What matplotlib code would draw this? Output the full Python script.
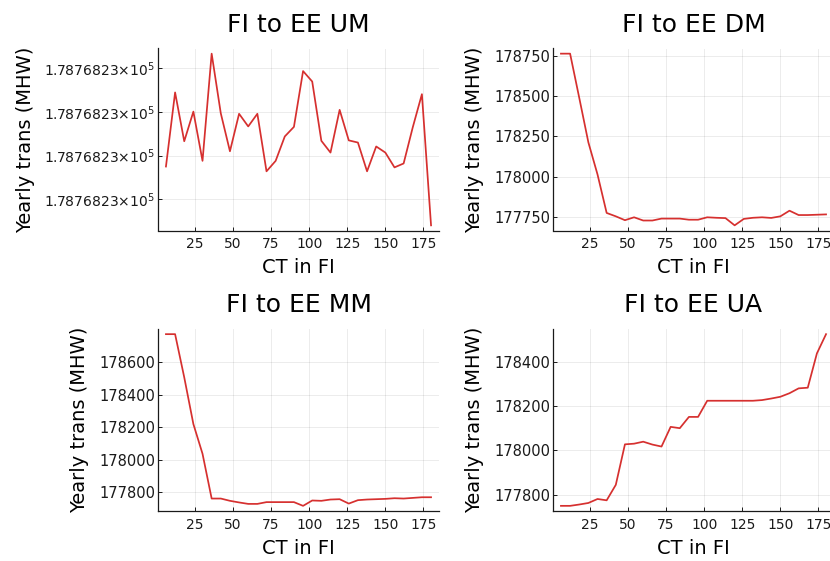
"""
Yearly transmission FI -> EE against CT in FI, four market setups.
"""

import matplotlib
matplotlib.use("Agg")
import matplotlib.pyplot as plt
import matplotlib.ticker as mticker

W, H = 830, 561
LINE_COLOR = "#d6302f"

plt.rcParams.update({
    "font.family": "DejaVu Sans",
    "mathtext.fontset": "dejavusans",
    "axes.edgecolor": "#1a1a1a",
    "axes.linewidth": 0.9,
    "xtick.direction": "in",
    "ytick.direction": "in",
    "xtick.major.size": 3,
    "ytick.major.size": 3,
    "xtick.major.width": 0.7,
    "ytick.major.width": 0.7,
    "xtick.color": "#1a1a1a",
    "ytick.color": "#1a1a1a",
    "xtick.labelsize": 10,
    "ytick.labelsize": 10.5,
    "grid.color": "#000000",
    "grid.alpha": 0.09,
    "grid.linewidth": 0.6,
})

CT_IN_FI = [6, 12, 18, 24, 30, 36, 42, 48, 54, 60,
            66, 72, 78, 84, 90, 96, 102, 108, 114, 120,
            126, 132, 138, 144, 150, 156, 162, 168, 174, 180]

UM_TRANS = [178768.22875, 178768.23045, 178768.22933, 178768.23001, 178768.22888,
            178768.23134, 178768.22997, 178768.22910, 178768.22996, 178768.22967,
            178768.22996, 178768.22864, 178768.22888, 178768.22944, 178768.22966,
            178768.23094, 178768.23070, 178768.22934, 178768.22907, 178768.23005,
            178768.22935, 178768.22930, 178768.22864, 178768.22921, 178768.22907,
            178768.22873, 178768.22882, 178768.22965, 178768.23041, 178768.22740]

DM_TRANS = [178764, 178764, 178490, 178213, 178014, 177775, 177754, 177730, 177748, 177728,
            177728, 177740, 177740, 177740, 177733, 177733, 177748, 177745, 177743, 177698,
            177738, 177745, 177748, 177744, 177754, 177789, 177762, 177762, 177764, 177766]

MM_TRANS = [178774, 178774, 178508, 178220, 178037, 177761, 177761, 177747, 177737, 177728,
            177728, 177739, 177739, 177739, 177739, 177716, 177749, 177747, 177755, 177757,
            177730, 177751, 177755, 177757, 177759, 177763, 177761, 177765, 177769, 177769]

UA_TRANS = [177749, 177749, 177755, 177762, 177780, 177774, 177844, 178027, 178030, 178039,
            178026, 178017, 178106, 178100, 178151, 178151, 178224, 178224, 178224, 178224,
            178224, 178224, 178227, 178234, 178242, 178258, 178280, 178283, 178438, 178525]

UM_YTICKS = [178768.228, 178768.229, 178768.230, 178768.231]
UM_YTICKLABELS = [r"1.7876823$\times$10$^{5}$"] * 4
DM_YTICKS = [177750, 178000, 178250, 178500, 178750]
MM_YTICKS = [177800, 178000, 178200, 178400, 178600]
UA_YTICKS = [177800, 178000, 178200, 178400]

PANELS = [
    ("FI to EE UM", UM_TRANS, UM_YTICKS, UM_YTICKLABELS, (158, 48.5)),
    ("FI to EE DM", DM_TRANS, DM_YTICKS, None, (553, 48.5)),
    ("FI to EE MM", MM_TRANS, MM_YTICKS, None, (158, 329)),
    ("FI to EE UA", UA_TRANS, UA_YTICKS, None, (553, 329)),
]
AX_W, AX_H = 281, 182


def draw_panel(fig, title, values, yticks, yticklabels, origin):
    left, top = origin
    ax = fig.add_axes([left / W, (H - top - AX_H) / H, AX_W / W, AX_H / H])
    ax.plot(CT_IN_FI, values, color=LINE_COLOR, lw=1.25)
    ax.margins(x=0.03, y=0.03)

    ax.xaxis.set_major_locator(mticker.MultipleLocator(25))
    ax.yaxis.set_major_locator(mticker.FixedLocator(yticks))
    if yticklabels is not None:
        ax.yaxis.set_major_formatter(mticker.FixedFormatter(yticklabels))
        ax.tick_params(axis="y", labelsize=10)
    else:
        ax.yaxis.set_major_formatter(mticker.StrMethodFormatter("{x:.0f}"))
    ax.tick_params(axis="x", pad=5)
    ax.tick_params(axis="y", pad=2)

    for side in ("top", "right"):
        ax.spines[side].set_visible(False)
    ax.grid(True)
    ax.set_axisbelow(True)

    ax.set_title(title, fontsize=18, pad=12)
    ax.set_xlabel("CT in FI", fontsize=14, labelpad=5)
    ax.set_ylabel("Yearly trans (MHW)", fontsize=14, labelpad=7)
    return ax


def main():
    fig = plt.figure(figsize=(W / 100, H / 100), dpi=100)
    for title, values, yticks, labels, origin in PANELS:
        draw_panel(fig, title, values, yticks, labels, origin)
    fig.savefig("out.png", dpi=100)
    plt.close(fig)


if __name__ == "__main__":
    main()
